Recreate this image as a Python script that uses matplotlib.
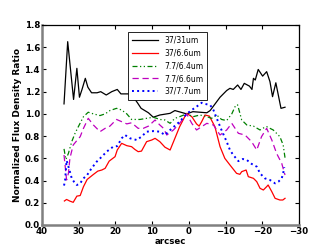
import matplotlib
matplotlib.use('Agg')
import matplotlib.pyplot as plt

# 37/31um
x_3731 = [34.0, 33.0, 31.4, 30.5, 29.8, 29.1, 28.2, 27.5, 26.5, 25.0, 24.0, 22.5, 21.0, 19.5,
          18.5, 16.0, 15.5, 14.0, 13.0, 11.0, 9.7, 7.9, 5.1, 3.8, 0.6, -1.1, -4.9, -5.8, -8.5,
          -10.3, -11.2, -12.1, -13.3, -14.2, -15.1, -16.5, -17.2, -17.6, -18.1, -18.9, -20.1,
          -21.2, -22.1, -22.8, -23.7, -25.1, -26.2]
y_3731 = [1.09, 1.65, 1.13, 1.41, 1.15, 1.22, 1.32, 1.24, 1.19, 1.19, 1.20, 1.17, 1.20, 1.22,
          1.18, 1.18, 1.17, 1.10, 1.05, 1.01, 0.97, 0.99, 1.005, 1.03, 1.00, 1.02, 1.01, 1.03, 1.15,
          1.21, 1.23, 1.22, 1.26, 1.22, 1.275, 1.25, 1.22, 1.32, 1.305, 1.40, 1.34,
          1.38, 1.29, 1.155, 1.28, 1.05, 1.06]

# 37/6.6um
x_3766 = [33.9, 33.3, 32.4, 31.5, 30.5, 29.6, 28.7, 27.7, 26.0, 24.8, 23.7, 22.8, 21.7, 20.1,
          19.5, 18.3, 16.9, 15.6, 14.7, 13.8, 12.9, 11.5, 10.1, 9.2, 7.9, 6.5, 5.1, 3.8, 2.5,
          1.1, 0.6, -0.8, -2.1, -2.8, -3.5, -4.4, -5.6, -7.1, -8.5, -9.8, -11.2, -13.0, -13.9,
          -14.4, -15.6, -16.2, -17.6, -18.5, -19.4, -20.3, -21.2, -21.6, -22.6, -23.5, -24.8,
          -25.6, -26.2]
y_3766 = [0.216, 0.23, 0.215, 0.204, 0.26, 0.265, 0.345, 0.41, 0.455, 0.485, 0.495, 0.51, 0.575,
          0.615, 0.675, 0.735, 0.714, 0.705, 0.68, 0.66, 0.665, 0.75, 0.765, 0.78, 0.75, 0.70,
          0.675, 0.78, 0.885, 0.975, 1.005, 0.975, 0.91, 0.89, 0.93, 0.99, 0.98, 0.885, 0.705,
          0.60, 0.54, 0.465, 0.456, 0.48, 0.495, 0.435, 0.42, 0.39, 0.33, 0.315, 0.345, 0.36,
          0.30, 0.24, 0.225, 0.225, 0.24]

# 7.7/6.4um
x_7764 = [34.0, 33.5, 32.8, 31.9, 31.0, 30.1, 28.7, 27.4, 26.0, 24.2, 22.8, 21.5, 19.7, 18.3,
          16.9, 15.6, 13.3, 11.5, 9.7, 7.9, 6.5, 5.1, 3.8, 2.5, 0.6, -1.2, -3.0, -4.9, -6.2, -7.6,
          -8.9, -10.3, -11.7, -12.8, -13.3, -14.4, -15.8, -17.6, -19.4, -20.1, -21.2, -23.0,
          -24.8, -25.7, -26.2]
y_7764 = [0.685, 0.59, 0.645, 0.75, 0.825, 0.885, 0.975, 1.015, 1.00, 0.985, 1.00, 1.03, 1.05,
          1.035, 1.00, 0.95, 0.95, 0.96, 0.97, 0.95, 0.945, 0.915, 0.96, 0.975, 1.00, 0.975,
          0.99, 0.975, 0.96, 0.99, 0.95, 0.94, 1.00, 1.08, 1.08, 0.945, 0.90, 0.89, 0.855, 0.87,
          0.885, 0.855, 0.795, 0.72, 0.605]

# 7.7/6.6um
x_7766 = [34.0, 33.3, 32.8, 32.4, 31.5, 30.5, 29.6, 28.7, 27.4, 26.0, 24.2, 22.8, 21.5, 19.7,
          18.3, 16.9, 15.6, 13.8, 12.4, 11.0, 9.2, 7.9, 6.9, 6.0, 4.2, 2.5, 0.6, -0.8, -2.1, -3.5,
          -4.9, -6.7, -8.5, -10.3, -11.7, -13.5, -15.3, -17.1, -18.5, -19.8, -21.2, -22.6, -23.9,
          -25.3, -26.2]
y_7766 = [0.63, 0.405, 0.465, 0.60, 0.72, 0.76, 0.795, 0.87, 0.96, 0.90, 0.84, 0.87, 0.89, 0.95,
          0.93, 0.91, 0.92, 0.87, 0.87, 0.89, 0.945, 0.90, 0.87, 0.81, 0.855, 0.915, 1.00, 0.915,
          0.855, 0.885, 0.915, 0.90, 0.81, 0.855, 0.915, 0.825, 0.81, 0.75, 0.675, 0.795, 0.87,
          0.765, 0.645, 0.555, 0.45]

# 37/7.7um
x_3777 = [34.0, 33.7, 33.3, 32.8, 32.4, 31.9, 31.3, 30.5, 29.6, 28.7, 27.7, 26.5, 25.1, 23.7,
          22.4, 20.6, 19.5, 18.3, 17.4, 16.0, 14.2, 12.9, 11.5, 9.7, 7.9, 6.5, 5.1, 2.5, 0.6,
          -0.8, -2.1, -3.5, -4.4, -5.8, -6.7, -7.6, -8.9, -10.3, -11.2, -12.1, -13.5, -14.7,
          -15.8, -17.1, -18.5, -19.4, -20.7, -22.1, -23.5, -24.4, -25.3, -25.7, -26.0]
y_3777 = [0.355, 0.405, 0.58, 0.525, 0.48, 0.42, 0.39, 0.36, 0.375, 0.42, 0.45, 0.51, 0.57,
          0.615, 0.66, 0.705, 0.71, 0.78, 0.81, 0.78, 0.765, 0.795, 0.84, 0.845, 0.84, 0.81,
          0.855, 0.93, 1.00, 1.035, 1.065, 1.10, 1.09, 1.08, 1.035, 0.96, 0.855, 0.75, 0.675,
          0.63, 0.575, 0.594, 0.585, 0.55, 0.525, 0.465, 0.42, 0.405, 0.375, 0.39, 0.42, 0.465,
          0.52]

fig = plt.figure(figsize=(3.32, 2.5), dpi=100)
ax = fig.add_axes([0.1265, 0.1, 0.774, 0.8])

ax.plot(x_3731, y_3731, color='black', lw=0.9, label='37/31um')
ax.plot(x_3766, y_3766, color='red', lw=0.9, label='37/6.6um')
ax.plot(x_7764, y_7764, color='green', lw=0.9, dashes=[4, 2, 1, 2, 1, 2], label='7.7/6.4um')
ax.plot(x_7766, y_7766, color='m', lw=0.9, dashes=[5, 3], label='7.7/6.6um')
ax.plot(x_3777, y_3777, color='blue', lw=1.4, ls=':', label='37/7.7um')

ax.set_xlim(40, -30)
ax.set_ylim(0, 1.8)
ax.set_xticks(range(40, -31, -10))
ax.set_yticks([0.0, 0.2, 0.4, 0.6, 0.8, 1.0, 1.2, 1.4, 1.6, 1.8])
ax.set_xticklabels(['40', '30', '20', '10', '0', '\u221210', '\u221220', '\u221230'])
ax.tick_params(direction='in', top=True, right=True, length=3, width=0.8,
               labelsize=6.2, pad=1.5)
for lab in ax.get_xticklabels() + ax.get_yticklabels():
    lab.set_fontweight('bold')

for s in ['left', 'bottom']:
    ax.spines[s].set_color('#808080')
    ax.spines[s].set_linewidth(1.8)
for s in ['top', 'right']:
    ax.spines[s].set_linewidth(0.9)

ax.set_xlabel('arcsec', fontsize=6.2, fontweight='bold', labelpad=1)
ax.set_ylabel('Normalized Flux Density Ratio', fontsize=6.5, fontweight='bold', labelpad=2)

leg = ax.legend(loc='upper center', bbox_to_anchor=(0.49, 0.985), fontsize=5.5,
                fancybox=False, framealpha=1, edgecolor='black', handlelength=3.4,
                labelspacing=0.5, borderpad=0.5)
leg.get_frame().set_linewidth(0.6)

fig.savefig('out.png', dpi=100)
